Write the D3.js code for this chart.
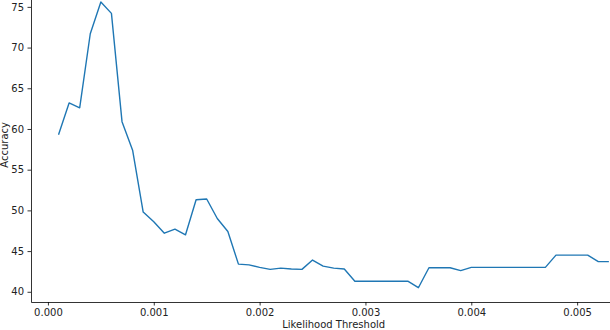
<!DOCTYPE html>
<html>
<head>
<meta charset="utf-8">
<script src="https://cdn.jsdelivr.net/npm/d3@7"></script>
<style>
  body { margin: 0; background: #fff; }
  svg { display: block; font-family: "DejaVu Sans", sans-serif; }
</style>
</head>
<body>
<div id="chart"></div>
<script>
// likelihood thresholds (0.0001 .. 0.0053)
const thresholds = d3.range(1, 54).map(i => +(i * 0.0001).toFixed(4));

// accuracy
const accuracy = [
    59.3, 63.2, 62.6, 71.7, 75.6, 74.2, 60.9, 57.4, 49.8, 48.6,
    47.2, 47.7, 47.0, 51.3, 51.4, 49.0, 47.4, 43.4, 43.3, 43.0,
    42.75, 42.9, 42.8, 42.75, 43.9, 43.15, 42.9, 42.8, 41.3, 41.3,
    41.3, 41.3, 41.3, 41.3, 40.5, 42.95, 42.95, 42.95, 42.6, 43.0,
    43.0, 43.0, 43.0, 43.0, 43.0, 43.0, 43.0, 44.5, 44.5, 44.5,
    44.5, 43.7, 43.7
];

const xTicks = [0, 0.001, 0.002, 0.003, 0.004, 0.005];
const yTicks = [40, 45, 50, 55, 60, 65, 70, 75];

const width = 610, height = 330;

// axes box (matplotlib-like, the figure is cropped at top and right)
const box = { left: 31, right: 636.4, bottom: 302, top: -12.3 };

// matplotlib style 5% padding on data limits
const pad = ([a, b]) => [a - 0.05 * (b - a), b + 0.05 * (b - a)];

const data = thresholds.map((t, i) => ({ t, v: accuracy[i] }));

const x = d3.scaleLinear()
    .domain(pad(d3.extent(thresholds)))
    .range([box.left, box.right]);

const y = d3.scaleLinear()
    .domain(pad(d3.extent(accuracy)))
    .range([box.bottom, box.top]);

const svg = d3.select('#chart')
    .append('svg')
    .attr('width', width)
    .attr('height', height);

// the line
svg.append('path')
    .datum(data)
    .attr('fill', 'none')
    .attr('stroke', '#1f77b4')
    .attr('stroke-width', 1.4)
    .attr('stroke-linejoin', 'round')
    .attr('d', d3.line().x(d => x(d.t)).y(d => y(d.v)));

// x axis
const xAxis = svg.append('g')
    .attr('transform', `translate(0,${box.bottom})`)
    .call(d3.axisBottom(x).tickValues(xTicks).tickFormat(d3.format('.3f'))
        .tickSize(3.5).tickPadding(3.5).tickSizeOuter(0));

// y axis
const yAxis = svg.append('g')
    .attr('transform', `translate(${box.left},0)`)
    .call(d3.axisLeft(y).tickValues(yTicks).tickFormat(d3.format('d'))
        .tickSize(3.5).tickPadding(3.5).tickSizeOuter(0));

[xAxis, yAxis].forEach(g => {
    g.select('.domain').attr('stroke', '#000').attr('stroke-width', 0.8);
    g.selectAll('.tick line').attr('stroke', '#000').attr('stroke-width', 0.8);
    g.selectAll('.tick text')
        .attr('fill', '#222')
        .attr('font-size', 10)
        .attr('font-family', '"DejaVu Sans", sans-serif');
});

// axis labels
svg.append('text')
    .attr('x', (box.left + box.right) / 2)
    .attr('y', 328)
    .attr('text-anchor', 'middle')
    .attr('font-size', 10)
    .attr('fill', '#222')
    .text('Likelihood Threshold');

svg.append('text')
    .attr('transform', `translate(7.5,${(box.top + box.bottom) / 2}) rotate(-90)`)
    .attr('text-anchor', 'middle')
    .attr('font-size', 10)
    .attr('fill', '#222')
    .text('Accuracy');
</script>
</body>
</html>
